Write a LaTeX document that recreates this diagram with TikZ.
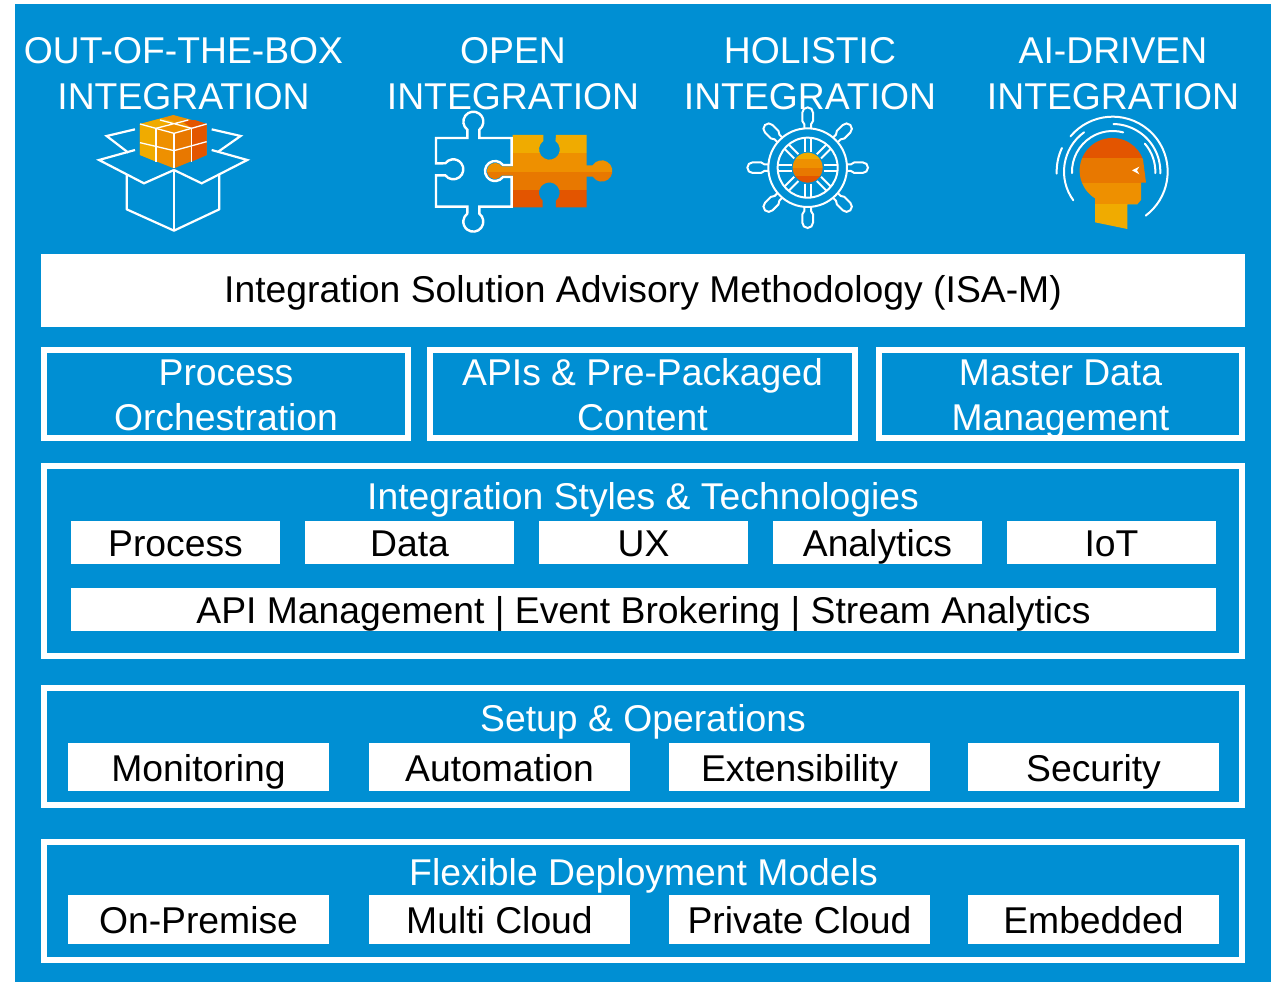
\documentclass[tikz,border=0pt]{standalone}
\usepackage{fontspec}
\setmainfont{Liberation Sans}
\definecolor{bgblue}{HTML}{008FD3}
\definecolor{cY}{HTML}{F0AB00}
\definecolor{cO}{HTML}{EE9000}
\definecolor{cD}{HTML}{E87800}
\definecolor{cR}{HTML}{E35500}
\newcommand{\rbox}[6][]{%
  \pgfmathsetmacro{\cxx}{(#3+#5)/2}\pgfmathsetmacro{\cyy}{(#4+#6)/2}%
  \pgfmathsetmacro{\www}{#5-#3}\pgfmathsetmacro{\hhh}{#6-#4}%
  \node[#1,minimum width=\www pt,minimum height=\hhh pt] (#2) at (\cxx,\cyy)}
\tikzset{
  txt/.style={font=\fontsize{37.3}{45}\selectfont,inner sep=0pt,align=center},
  whitebar/.style={txt,fill=white,text=black,text height=29pt,text depth=6pt},
  item/.style={txt,fill=white,text=black,text height=34pt,text depth=6pt},
  panel/.style={txt,draw=white,line width=6pt,text=white},
  twoline/.style={panel,text height=78pt,text depth=6pt},
  heading/.style={txt,text=white,anchor=base},
  icon/.style={draw=white,line width=2.2pt,line join=miter},
  thin/.style={draw=white,line width=1.3pt},
  wheel/.style={draw=white,line width=2pt},
  arcline/.style={draw=white,line width=2pt},
}
\begin{document}
\begin{tikzpicture}[x=1pt,y=-1pt]
\useasboundingbox (0,0) rectangle (1272,982);
\fill[white] (0,0) rectangle (1272,982);
\fill[bgblue] (15,4) rectangle (1271,982);

% titles
\node[heading] (t1) at (183.5,109) {OUT-OF-THE-BOX\\INTEGRATION};
\node[heading] (t2) at (513,109) {OPEN\\INTEGRATION};
\node[heading] (t3) at (810,109) {HOLISTIC\\INTEGRATION};
\node[heading] (t4) at (1113,109) {AI-DRIVEN\\INTEGRATION};

% box icon
\begin{scope}[shift={(80,100)},x=.3333pt,y=-.3333pt]
  \fill[cO] (180,72)--(282,100)--(282,205)--(180,165)--cycle;
  \fill[cY] (180,72)--(228,85)--(228,185)--(180,165)--cycle;
  \fill[cD] (282,100)--(380,72)--(380,165)--(282,205)--cycle;
  \fill[cR] (335,85)--(380,72)--(380,165)--(335,185)--cycle;
  \fill[cO] (180,72)--(280,45)--(380,72)--(282,100)--cycle;
  \fill[cY] (180,72)--(245,55)--(282,65)--(228,85)--cycle;
  \fill[cR] (305,62)--(345,60)--(380,72)--(335,85)--cycle;
  \draw[thin] (180,128)--(282,152)--(380,125);
  \draw[thin] (228,85)--(228,185) (335,85)--(335,185) (282,100)--(282,205);
  \draw[thin] (180,72)--(282,100)--(380,72);
  \draw[thin] (228,85)--(325,60) (240,60)--(335,85);
  \draw[icon,line join=round] (140,225)--(140,328)--(282,392)--(418,328)--(418,225);
  \draw[icon] (282,210)--(282,392);
  \draw[icon] (282,210)--(192,250)--(57,180)--(165,150);
  \draw[icon] (282,210)--(365,250)--(502,180)--(395,150);
  \draw[icon] (165,88)--(80,108)--(145,158);
  \draw[icon] (395,88)--(482,108)--(415,155);
\end{scope}

% puzzle icon
\begin{scope}[shift={(420,100)},x=.3333pt,y=-.3333pt]
  \begin{scope}
    \clip (278,105)--(370,105)--(370,123) arc[start angle=234,end angle=-54,radius=31]--(408,105)--(500,105)--(500,196)--(518,196) arc[start angle=-148,end angle=148,radius=32]--(500,230)--(500,322)--(408,322)--(408,302) arc[start angle=50,end angle=-230,radius=31]--(368,322)--(278,322)--(278,227)--(244.5,227) arc[start angle=36,end angle=324,radius=24]--(278,199)--cycle;
    \fill[cY] (190,100) rectangle (590,158);
    \fill[cO] (190,158) rectangle (590,215);
    \fill[cD] (190,215) rectangle (590,270);
    \fill[cR] (190,270) rectangle (590,330);
  \end{scope}
  \draw[icon,line width=2.4pt] (48,114)--(142,114)--(142,89) arc[start angle=127,end angle=413,radius=30]--(178,114)--(275,114)--(275,195)--(249,195) arc[start angle=-37,end angle=-323,radius=30]--(275,231)--(275,320)--(178,320)--(178,341) arc[start angle=-53,end angle=233,radius=30]--(142,320)--(48,320)--(48,226)--(76,226) arc[start angle=143,end angle=-143,radius=30]--(48,190)--cycle;
\end{scope}

% wheel icon
\begin{scope}[shift={(730,100)},x=.3333pt,y=-.3333pt]
  \foreach \a in {0,45,...,315}{
    \begin{scope}[shift={(233,203)},rotate=\a]
      \draw[wheel] (48,-9)--(90,-9) (48,9)--(90,9);
      \draw[wheel] (119,-10)--(130,-10)--(140,-16)--(165,-16) arc[start angle=-90,end angle=90,radius=16]--(140,16)--(130,10)--(119,10);
    \end{scope}
  }
  \draw[wheel] (233,203) circle[radius=118] (233,203) circle[radius=90];
  \begin{scope}
    \clip (233,203) circle[radius=45];
    \fill[cY] (180,150) rectangle (290,178);
    \fill[cO] (180,178) rectangle (290,204);
    \fill[cD] (180,204) rectangle (290,228);
    \fill[cR] (180,228) rectangle (290,255);
  \end{scope}
\end{scope}

% head icon
\begin{scope}[shift={(1040,105)},x=.3333pt,y=-.3333pt]
  \begin{scope}
    \clip (165,280) arc[start angle=122,end angle=340,radius=98] -- (318,233) -- (303,233) -- (303,285) -- (292,298) -- (262,298) -- (262,372) -- (165,352) -- cycle;
    \fill[cR] (100,90) rectangle (330,160);
    \fill[cD] (100,160) rectangle (330,233);
    \fill[cO] (100,233) rectangle (330,298);
    \fill[cY] (100,298) rectangle (330,380);
  \end{scope}
  \fill[white] (298,185)--(276,196)--(298,208)--(291,196)--cycle;
  \draw[arcline,line cap=round] (218,200)++(-140:165) arc[start angle=-140,end angle=53,radius=165];
  \draw[arcline,line cap=round] (218,200)++(178:168) arc[start angle=178,end angle=205,radius=168];
  \draw[arcline,line cap=round] (218,200)++(144:146) arc[start angle=144,end angle=234,radius=146];
  \draw[arcline,line cap=round] (218,200)++(178:122) arc[start angle=178,end angle=285,radius=122];
  \draw[arcline,line cap=round] (218,200)++(-89:143) arc[start angle=-89,end angle=2,radius=143];
  \draw[arcline,line cap=round] (218,200)++(-41:128) arc[start angle=-41,end angle=2,radius=128];
\end{scope}

% top bar
\rbox[whitebar]{isam}{41}{254}{1245}{327} {Integration Solution Advisory Methodology (ISA-M)};

% three boxes
\rbox[twoline]{orch}{44}{350}{408}{438} {Process\\Orchestration};
\rbox[twoline]{apis}{430}{350}{855}{438} {APIs \& Pre-Packaged\\Content};
\rbox[twoline]{mdm}{879}{350}{1242}{438} {Master Data\\Management};

% panels
\rbox[panel]{pstyles}{44}{466}{1242}{656} {};
\node[heading] (hstyles) at (643,509) {Integration Styles \& Technologies};
\rbox[item]{i1}{71}{521}{280}{564} {Process};
\rbox[item]{i2}{305}{521}{514}{564} {Data};
\rbox[item]{i3}{539}{521}{748}{564} {UX};
\rbox[item]{i4}{773}{521}{982}{564} {Analytics};
\rbox[item]{i5}{1007}{521}{1216}{564} {IoT};
\rbox[item]{i6}{71}{588}{1216}{631} {API Management | Event Brokering | Stream Analytics};

\rbox[panel]{psetup}{44}{688}{1242}{805} {};
\node[heading] (hsetup) at (643,731) {Setup \& Operations};
\rbox[item]{s1}{68}{743}{329}{791} {Monitoring};
\rbox[item]{s2}{369}{743}{630}{791} {Automation};
\rbox[item]{s3}{669}{743}{930}{791} {Extensibility};
\rbox[item]{s4}{968}{743}{1219}{791} {Security};

\rbox[panel]{pdeploy}{44}{842}{1242}{960} {};
\node[heading] (hdeploy) at (643.5,885) {Flexible Deployment Models};
\rbox[item]{d1}{68}{895}{329}{944} {On-Premise};
\rbox[item]{d2}{369}{895}{630}{944} {Multi Cloud};
\rbox[item]{d3}{669}{895}{930}{944} {Private Cloud};
\rbox[item]{d4}{968}{895}{1219}{944} {Embedded};
\end{tikzpicture}
\end{document}
